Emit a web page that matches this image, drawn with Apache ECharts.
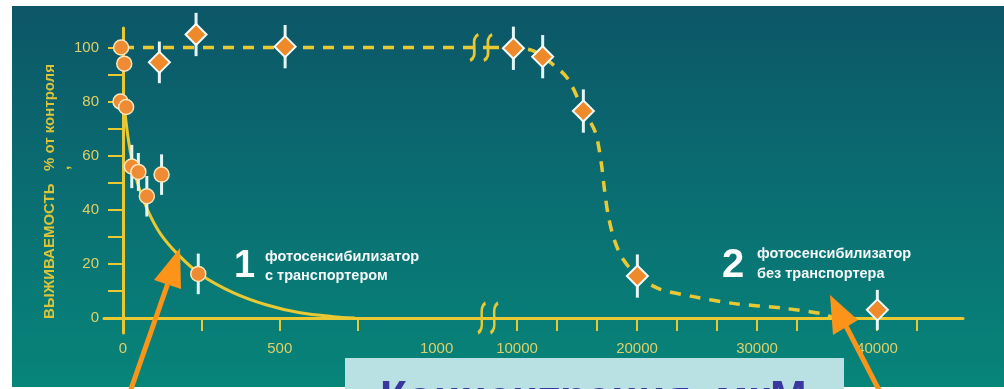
<!DOCTYPE html>
<html>
<head>
<meta charset="utf-8">
<script src="https://cdn.jsdelivr.net/npm/echarts@6/dist/echarts.min.js"></script>
<style>
  html, body { margin: 0; padding: 0; background: #ffffff; }
  #chart { width: 1004px; height: 389px; }
</style>
</head>
<body>
<div id="chart"></div>
<script>
// Survival (% of control) against photosensitizer concentration, µM.
// Series 1: photosensitizer with transporter (circles, solid fit).
// Series 2: photosensitizer without transporter (diamonds, dashed fit).

// measured points: concentration, survival, error half-width
const circleX   = [-6, 4, -8, 10, 28, 49, 76, 123, 240];
const circleY   = [100, 94, 80, 78, 56, 54, 45, 53, 16.3];
const circleErr = [0, 0, 0, 0, 8, 7, 7.5, 7.5, 7.5];

const diamondX   = [116, 233, 517, 9700, 12140, 15530, 20030, 40030];
const diamondY   = [94.5, 104.8, 100.3, 99.7, 96.6, 76.5, 15.5, 3];
const diamondErr = [7.7, 8, 8, 8, 8, 8, 8, 7.4];

// fitted curves
const curve1X = [4, 17, 30, 50, 80, 120, 175, 246, 351, 459, 565, 670, 740];
const curve1Y = [78, 66, 57.5, 48.5, 39.5, 31, 23.5, 16.2, 9.4, 4.8, 1.9, 0.5, 0];
const curve2X = [0, 1164, 7583, 9700, 11200, 12140, 14140, 15500, 16500, 17000, 17300, 17600, 18100, 18800, 20050, 21900, 24700, 28000, 32200, 35500, 36300];
const curve2Y = [100, 100, 100, 100, 99, 96.6, 89, 77, 69, 58, 47, 38, 29, 22, 15.5, 10.7, 7.9, 5.4, 3.6, 1.5, 0.2];

// broken concentration axis: low part and high part
const lowRange  = [-60.6, 1164];
const highRange = [7583, 47167];
const yRange    = [-5.55, 107.2];

const yTicks      = [0, 10, 20, 30, 40, 50, 60, 70, 80, 90, 100];
const yLabels     = [0, 20, 40, 60, 80, 100];
const xTicksLow   = [0, 250, 500, 750];
const xLabelsLow  = [0, 500, 1000];
const xTicksHigh  = [10000, 13333.33, 16666.67, 20000, 23333.33, 26666.67, 30000, 33333.33, 36666.67, 40000, 43333.33];
const xLabelsHigh = [10000, 20000, 30000, 40000];

const yTitle = 'ВЫЖИВАЕМОСТЬ   % от контроля';
const xTitle = 'Концентрация, мкМ';
const label1 = ['фотосенсибилизатор', 'с транспортером'];
const label2 = ['фотосенсибилизатор', 'без транспортера'];

const YELLOW = '#e8c934';
const TICK_TEXT = '#ddd06a';
const FONT = '"Liberation Sans", Arial, sans-serif';

const inLow = x => x <= lowRange[1];
const zip = (xs, ys, es) => xs.map((x, i) => es ? [x, ys[i], es[i]] : [x, ys[i]]);

const circles  = zip(circleX, circleY, circleErr);
const diamonds = zip(diamondX, diamondY, diamondErr);
const curve2   = zip(curve2X, curve2Y);

function part(list, low) { return list.filter(d => inLow(d[0]) === low); }

function xAxisCommon(range, ticks, labels, idx) {
  return {
    type: 'value', gridIndex: idx, min: range[0], max: range[1],
    splitLine: { show: false },
    axisLine: { show: true, onZero: true, lineStyle: { color: YELLOW, width: 3 } },
    axisTick: { show: true, length: 13, customValues: ticks, lineStyle: { color: YELLOW, width: 2 } },
    axisLabel: { customValues: labels, margin: 8, color: TICK_TEXT, fontSize: 15, fontFamily: FONT,
                 formatter: v => String(Math.round(v)) }
  };
}

const errorBars = {
  type: 'custom',
  renderItem(params, api) {
    const e = api.value(2);
    if (!e) return null;
    const x = api.value(0), y = api.value(1);
    const a = api.coord([x, y - e]);
    const b = api.coord([x, y + e]);
    return { type: 'line', shape: { x1: a[0], y1: a[1], x2: b[0], y2: b[1] },
             style: { stroke: '#e3f5f5', lineWidth: 3 } };
  },
  encode: { x: 0, y: 1 },
  clip: false,
  z: 4
};

const breakPath = 'path://M7,0 C3,3 4,9 4,14 C4,19 5,25 1,28 M17,0 C13,3 14,9 14,14 C14,19 15,25 11,28';
function breakMark(coord, size) {
  return {
    symbol: breakPath, symbolSize: size, silent: true,
    label: { show: false },
    itemStyle: { color: 'transparent', borderColor: YELLOW, borderWidth: 3 },
    data: [{ coord: coord }]
  };
}

const chart = echarts.init(document.getElementById('chart'), null, { renderer: 'canvas' });

const option = {
  animation: false,
  backgroundColor: 'transparent',
  grid: [
    { left: 104, top: 28, width: 384, height: 305 },
    { left: 488, top: 28, width: 475, height: 305 }
  ],
  xAxis: [
    xAxisCommon(lowRange, xTicksLow, xLabelsLow, 0),
    xAxisCommon(highRange, xTicksHigh, xLabelsHigh, 1)
  ],
  yAxis: [
    {
      type: 'value', gridIndex: 0, min: yRange[0], max: yRange[1],
      splitLine: { show: false },
      axisLine: { show: true, onZero: true, lineStyle: { color: YELLOW, width: 3 } },
      axisTick: { show: true, length: 15, customValues: yTicks, lineStyle: { color: YELLOW, width: 2 } },
      axisLabel: { customValues: yLabels, margin: 5, color: TICK_TEXT, fontSize: 15, fontFamily: FONT },
      name: yTitle, nameLocation: 'middle', nameRotate: 90, nameGap: 47,
      nameTextStyle: { color: '#d9c43a', fontWeight: 'bold', fontSize: 15, fontFamily: FONT,
                       padding: [0, 22, 0, 0] }
    },
    { type: 'value', gridIndex: 1, min: yRange[0], max: yRange[1], show: false }
  ],
  graphic: [
    {
      type: 'rect', z: -100, silent: true,
      shape: { x: 12, y: 6, width: 992, height: 381 },
      style: {
        fill: new echarts.graphic.LinearGradient(0, 0, 0, 1, [
          { offset: 0, color: '#0c5667' },
          { offset: 0.5, color: '#0a6e72' },
          { offset: 1, color: '#078579' }
        ])
      }
    },
    // comma of the y title, set below the line
    { type: 'text', x: 65, y: 168, rotation: Math.PI / 2, silent: true,
      style: { text: ',', fill: '#d9c43a', font: 'bold 15px ' + FONT, textAlign: 'center', textVerticalAlign: 'middle' } },
    // curve labels
    { type: 'text', x: 234, y: 267, silent: true,
      style: { text: '1', fill: '#ffffff', font: 'bold 38px ' + FONT, textVerticalAlign: 'middle' } },
    { type: 'text', x: 265, y: 257, silent: true,
      style: { text: label1[0], fill: '#f4f8f8', font: 'bold 14.5px ' + FONT, textVerticalAlign: 'middle' } },
    { type: 'text', x: 265, y: 276, silent: true,
      style: { text: label1[1], fill: '#f4f8f8', font: 'bold 14.5px ' + FONT, textVerticalAlign: 'middle' } },
    { type: 'text', x: 722, y: 266, silent: true,
      style: { text: '2', fill: '#ffffff', font: 'bold 40px ' + FONT, textVerticalAlign: 'middle' } },
    { type: 'text', x: 757, y: 254, silent: true,
      style: { text: label2[0], fill: '#f4f8f8', font: 'bold 14.5px ' + FONT, textVerticalAlign: 'middle' } },
    { type: 'text', x: 757, y: 274, silent: true,
      style: { text: label2[1], fill: '#f4f8f8', font: 'bold 14.5px ' + FONT, textVerticalAlign: 'middle' } },
    // x title plate
    { type: 'rect', z: 50, silent: true,
      shape: { x: 345, y: 358, width: 499, height: 40 },
      style: { fill: '#b9e0e3' } },
    { type: 'text', z: 51, x: 380, y: 400, silent: true,
      style: { text: xTitle, fill: '#3a389e', font: 'bold 44px ' + FONT, textVerticalAlign: 'middle' } },
    // pointer arrows
    { type: 'line', z: 60, silent: true,
      shape: { x1: 130, y1: 392, x2: 168, y2: 283 },
      style: { stroke: '#fb9419', lineWidth: 5 } },
    { type: 'polygon', z: 60, silent: true,
      shape: { points: [[180, 248], [154, 280], [181, 289]] },
      style: { fill: '#fb9419' } },
    { type: 'line', z: 60, silent: true,
      shape: { x1: 880, y1: 392, x2: 846, y2: 326 },
      style: { stroke: '#fb9419', lineWidth: 5 } },
    { type: 'polygon', z: 60, silent: true,
      shape: { points: [[830, 295], [833, 335], [858, 320]] },
      style: { fill: '#fb9419' } }
  ],
  series: [
    { type: 'line', xAxisIndex: 0, yAxisIndex: 0, data: zip(curve1X, curve1Y),
      smooth: 0.3, showSymbol: false, silent: true, z: 2,
      lineStyle: { color: YELLOW, width: 3 } },
    { type: 'line', xAxisIndex: 0, yAxisIndex: 0, data: part(curve2, true),
      showSymbol: false, silent: true, z: 2,
      lineStyle: { color: YELLOW, width: 3.5, type: [11, 9] },
      markPoint: breakMark([1142, 100], [22, 26]) },
    { type: 'line', xAxisIndex: 1, yAxisIndex: 1, data: part(curve2, false),
      smooth: 0.3, showSymbol: false, silent: true, z: 2,
      lineStyle: { color: YELLOW, width: 3.5, type: [11, 9] },
      markPoint: breakMark([7583, 0], [20, 30]) },
    Object.assign({ xAxisIndex: 0, yAxisIndex: 0, data: part(circles, true) }, errorBars),
    Object.assign({ xAxisIndex: 0, yAxisIndex: 0, data: part(diamonds, true) }, errorBars),
    Object.assign({ xAxisIndex: 1, yAxisIndex: 1, data: part(diamonds, false) }, errorBars),
    { type: 'scatter', xAxisIndex: 0, yAxisIndex: 0, data: part(circles, true).map(d => [d[0], d[1]]),
      symbol: 'circle', symbolSize: 15, z: 5, silent: true,
      itemStyle: { color: '#ef8b32', borderColor: '#fbe7bd', borderWidth: 1.5, opacity: 1 } },
    { type: 'scatter', xAxisIndex: 0, yAxisIndex: 0, data: part(diamonds, true).map(d => [d[0], d[1]]),
      symbol: 'diamond', symbolSize: 21, z: 5, silent: true,
      itemStyle: { color: '#ef8a2a', borderColor: '#f6fbfb', borderWidth: 2, opacity: 1 } },
    { type: 'scatter', xAxisIndex: 1, yAxisIndex: 1, data: part(diamonds, false).map(d => [d[0], d[1]]),
      symbol: 'diamond', symbolSize: 21, z: 5, silent: true,
      itemStyle: { color: '#ef8a2a', borderColor: '#f6fbfb', borderWidth: 2, opacity: 1 } }
  ]
};

chart.setOption(option);
</script>
</body>
</html>
